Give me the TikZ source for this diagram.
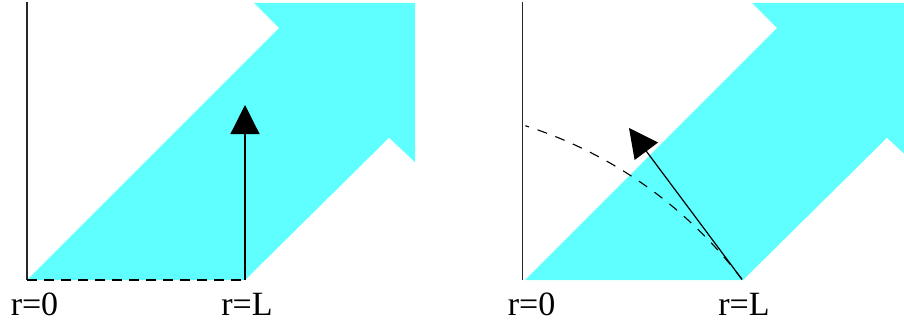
\documentclass[tikz,border=0pt]{standalone}
\usepackage{fontspec}
\setmainfont{Liberation Serif}
\usetikzlibrary{arrows.meta}
\definecolor{bandcyan}{RGB}{95,255,255}
\tikzset{
  band/.style={fill=bandcyan, draw=none},
  axisline/.style={line width=1.3pt, black!85},
  dashline/.style={line width=1.3pt, dash pattern=on 10pt off 7pt},
  vecarrow/.style={line width=1.2pt, -{Triangle[length=29pt,width=29pt]}},
  rlabel/.style={font=\fontsize{34}{40}\selectfont, inner sep=0pt, anchor=base}
}
\begin{document}
\begin{tikzpicture}[x=1pt,y=1pt]
\useasboundingbox (0,0) rectangle (904,322);
\clip (0,0) rectangle (904,322);
% left panel
\fill[band] (27,42) -- (279,294) -- (254,319) -- (415,319) -- (415,160) -- (389,184.3) -- (245,42) -- cycle;
\coordinate (L0) at (27,42);
\coordinate (LT) at (27,319.5);
\coordinate (LL) at (245,42);
\coordinate (LA) at (245,217);
\draw[axisline] (L0) -- (LT);
\draw[dashline] (L0) -- (LL);
\draw[vecarrow] (LL) -- (LA);
\node[rlabel] (l0) at (34.5,7) {r=0};
\node[rlabel] (lL) at (247,7) {r=L};
% right panel
\fill[band] (525,42) -- (777,294) -- (752,319) -- (913,319) -- (913,160) -- (887,184.3) -- (743,42) -- cycle;
\coordinate (R0) at (522.7,42);
\coordinate (RT) at (522.7,319.5);
\coordinate (RL) at (742,42.6);
\coordinate (RA) at (629,194);
\draw[axisline] (R0) -- (RT);
\draw[line width=1.1pt, dash pattern=on 10pt off 9pt] (RL) arc[start angle=37, end angle=72.3, radius=438];
\draw[vecarrow] (RL) -- (RA);
\node[rlabel] (r0) at (531.5,7) {r=0};
\node[rlabel] (rL) at (744,7) {r=L};
\end{tikzpicture}
\end{document}
